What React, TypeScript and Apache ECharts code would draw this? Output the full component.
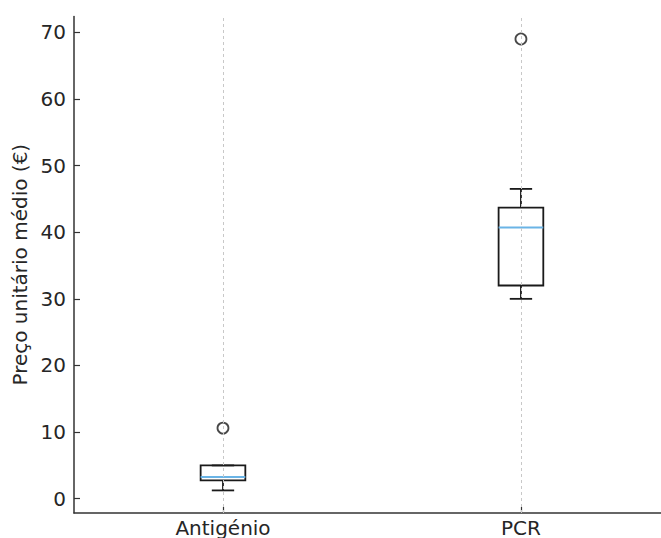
import React, { useEffect, useRef } from "react";
import * as echarts from "echarts";

const categories = ["Antigénio", "PCR"];
const positions = [1, 2];
const whiskerLow = [1.25, 30.0];
const q1 = [2.75, 32.0];
const median = [3.25, 40.7];
const q3 = [5.0, 43.7];
const whiskerHigh = [5.0, 46.5];
const outliers: [number, number][] = [
  [1, 10.6],
  [2, 69.0],
];
const yTicks = [0, 10, 20, 30, 40, 50, 60, 70];

export default function App() {
  const ref = useRef<HTMLDivElement>(null);
  useEffect(() => {
    document.body.style.margin = "0";
    if (!ref.current) return;
    const chart = echarts.init(ref.current, undefined, { renderer: "svg" });
    const boxData = categories.map((_, i) => [
      positions[i],
      whiskerLow[i],
      q1[i],
      median[i],
      q3[i],
      whiskerHigh[i],
    ]);
    const textColor = "#262626";
    const font = "DejaVu Sans";
    const lineColor = "#1a1a1a";
    chart.setOption({
      animation: false,
      grid: { left: 74, top: 16.4, right: 0, height: 496.6 },
      xAxis: {
        type: "value",
        min: 0.5,
        max: 2.47,
        axisLine: { show: true, onZero: false, lineStyle: { color: "#333", width: 1.5 } },
        axisTick: {
          show: true,
          inside: true,
          length: 6,
          customValues: positions,
          lineStyle: { color: "#333", width: 1.2 },
        },
        axisLabel: {
          fontSize: 20,
          color: textColor,
          fontFamily: font,
          margin: 5,
          customValues: positions,
          formatter: (v: number) => categories[positions.indexOf(Math.round(v))] ?? "",
        },
        splitLine: { show: false },
      },
      yAxis: {
        type: "value",
        min: -2.14,
        max: 72.39,
        name: "Preço unitário médio (€)",
        nameLocation: "middle",
        nameGap: 44,
        nameRotate: 90,
        nameTextStyle: { fontSize: 20, color: textColor, fontFamily: font },
        axisLine: { show: true, onZero: false, lineStyle: { color: "#333", width: 1.5 } },
        axisTick: {
          show: true,
          inside: true,
          length: 6,
          customValues: yTicks,
          lineStyle: { color: "#333", width: 1.2 },
        },
        axisLabel: {
          fontSize: 20,
          color: textColor,
          fontFamily: font,
          margin: 8,
          customValues: yTicks,
        },
        splitLine: { show: false },
      },
      series: [
        {
          type: "scatter",
          data: [],
          z: 1,
          silent: true,
          markLine: {
            silent: true,
            symbol: ["none", "none"],
            label: { show: false },
            lineStyle: { color: "#c8c8c8", type: [3, 3], width: 1 },
            data: positions.map((p) => ({ xAxis: p })),
          },
        },
        {
          type: "custom",
          z: 3,
          data: boxData,
          encode: { x: 0, y: [1, 2, 3, 4, 5] },
          renderItem: (params: any, api: any) => {
            const xv = api.value(0);
            const bw = api.size([0.15, 0])[0];
            const cw = bw / 2;
            const pLow = api.coord([xv, api.value(1)]);
            const pQ1 = api.coord([xv, api.value(2)]);
            const pMed = api.coord([xv, api.value(3)]);
            const pQ3 = api.coord([xv, api.value(4)]);
            const pHigh = api.coord([xv, api.value(5)]);
            const x = pLow[0];
            const stroke = { stroke: lineColor, lineWidth: 1.8, fill: "none" };
            return {
              type: "group",
              children: [
                { type: "line", shape: { x1: x, y1: pQ1[1], x2: x, y2: pLow[1] }, style: stroke },
                { type: "line", shape: { x1: x, y1: pQ3[1], x2: x, y2: pHigh[1] }, style: stroke },
                { type: "line", shape: { x1: x - cw / 2, y1: pLow[1], x2: x + cw / 2, y2: pLow[1] }, style: stroke },
                { type: "line", shape: { x1: x - cw / 2, y1: pHigh[1], x2: x + cw / 2, y2: pHigh[1] }, style: stroke },
                {
                  type: "rect",
                  shape: { x: x - bw / 2, y: pQ3[1], width: bw, height: pQ1[1] - pQ3[1] },
                  style: { stroke: lineColor, lineWidth: 1.8, fill: "none" },
                },
                {
                  type: "line",
                  shape: { x1: x - bw / 2, y1: pMed[1], x2: x + bw / 2, y2: pMed[1] },
                  style: { stroke: "#6ab4e6", lineWidth: 2 },
                },
              ],
            };
          },
        },
        {
          type: "scatter",
          z: 4,
          data: outliers,
          symbol: "circle",
          symbolSize: 11,
          itemStyle: { color: "rgba(0,0,0,0)", borderColor: lineColor, borderWidth: 1.8 },
        },
      ],
    });
    return () => chart.dispose();
  }, []);
  return <div ref={ref} style={{ width: 661, height: 538 }} />;
}
